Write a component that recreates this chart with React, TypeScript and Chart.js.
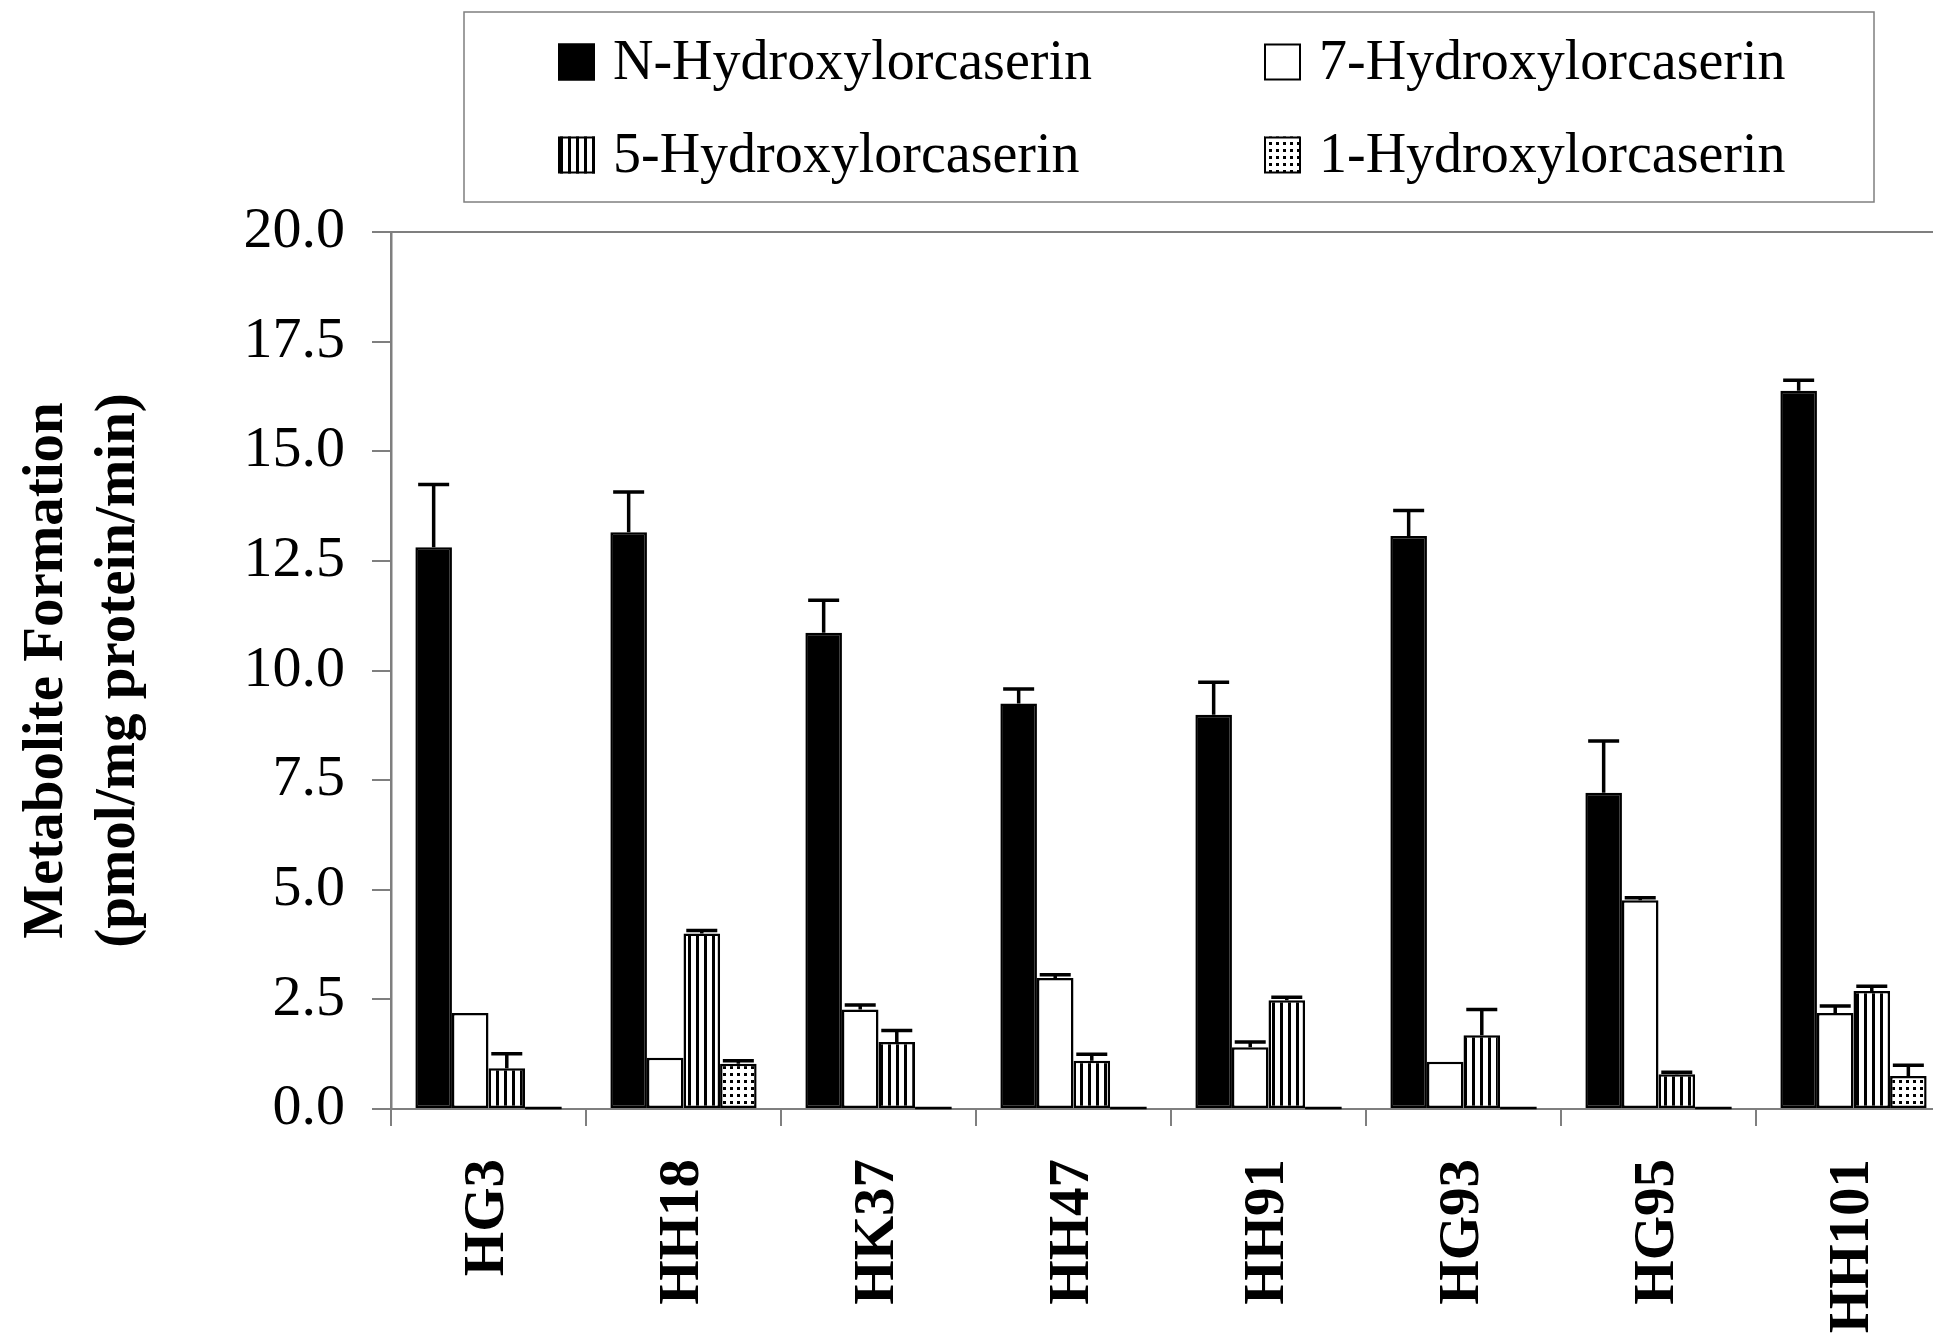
import React, { useEffect, useRef } from 'react';
import { Chart, registerables } from 'chart.js';

Chart.register(...registerables);

// Liver microsome samples
const samples = ['HG3', 'HH18', 'HK37', 'HH47', 'HH91', 'HG93', 'HG95', 'HH101'];

const seriesNames = [
  'N-Hydroxylorcaserin',
  '7-Hydroxylorcaserin',
  '5-Hydroxylorcaserin',
  '1-Hydroxylorcaserin',
];

// Metabolite formation, pmol/mg protein/min (mean and SD)
const nHydroxy = [12.81, 13.15, 10.86, 9.25, 8.99, 13.07, 7.21, 16.38];
const nHydroxySd = [1.43, 0.92, 0.74, 0.33, 0.74, 0.58, 1.18, 0.24];

const sevenHydroxy = [2.19, 1.17, 2.27, 2.99, 1.41, 1.08, 4.76, 2.19];
const sevenHydroxySd = [0, 0, 0.1, 0.07, 0.12, 0, 0.06, 0.16];

const fiveHydroxy = [0.93, 4.0, 1.53, 1.1, 2.48, 1.68, 0.79, 2.69];
const fiveHydroxySd = [0.33, 0.07, 0.26, 0.15, 0.07, 0.59, 0.05, 0.11];

const oneHydroxy = [0, 1.03, 0, 0, 0, 0, 0, 0.75];
const oneHydroxySd = [0, 0.07, 0, 0, 0, 0, 0, 0.25];

const yTickValues = [0, 2.5, 5, 7.5, 10, 12.5, 15, 17.5, 20];

const seriesValues = [nHydroxy, sevenHydroxy, fiveHydroxy, oneHydroxy];
const seriesSd = [nHydroxySd, sevenHydroxySd, fiveHydroxySd, oneHydroxySd];

const SERIF = '"Liberation Serif", "Times New Roman", Times, serif';
const AXIS_GRAY = '#7f7f7f';

function makeStripePattern(): CanvasPattern | string {
  const c = document.createElement('canvas');
  c.width = 8;
  c.height = 8;
  const g = c.getContext('2d');
  if (!g) return '#888';
  g.fillStyle = '#fff';
  g.fillRect(0, 0, 8, 8);
  g.fillStyle = '#000';
  g.fillRect(0, 0, 3, 8);
  return g.createPattern(c, 'repeat') || '#888';
}

function makeDotPattern(): CanvasPattern | string {
  const c = document.createElement('canvas');
  c.width = 7;
  c.height = 7;
  const g = c.getContext('2d');
  if (!g) return '#bbb';
  g.fillStyle = '#fff';
  g.fillRect(0, 0, 7, 7);
  g.fillStyle = '#000';
  g.fillRect(2, 2, 3, 3);
  return g.createPattern(c, 'repeat') || '#bbb';
}

export default function App() {
  const canvasRef = useRef<HTMLCanvasElement | null>(null);

  useEffect(() => {
    const canvas = canvasRef.current;
    if (!canvas) return;

    const fills: (string | CanvasPattern)[] = ['#000000', '#ffffff', makeStripePattern(), makeDotPattern()];

    // plus-only error bars, and the outline of empty (zero) bars on the baseline
    const errorBars = {
      id: 'errorBars',
      afterDatasetsDraw(chart: any) {
        const ctx: CanvasRenderingContext2D = chart.ctx;
        const yScale = chart.scales.y;
        chart.data.datasets.forEach((ds: any, i: number) => {
          const meta = chart.getDatasetMeta(i);
          const sds = seriesSd[i];
          meta.data.forEach((bar: any, j: number) => {
            const v = ds.data[j] as number;
            const x = bar.x;
            const y0 = yScale.getPixelForValue(v);
            ctx.save();
            ctx.strokeStyle = '#000';
            if (v === 0) {
              ctx.lineWidth = 2.5;
              ctx.beginPath();
              ctx.moveTo(x - bar.width / 2, y0 - 1);
              ctx.lineTo(x + bar.width / 2, y0 - 1);
              ctx.stroke();
            }
            const sd = sds[j];
            if (sd) {
              const y1 = yScale.getPixelForValue(v + sd);
              ctx.lineWidth = 3.5;
              ctx.beginPath();
              ctx.moveTo(x, y0);
              ctx.lineTo(x, y1);
              ctx.moveTo(x - 15.5, y1);
              ctx.lineTo(x + 15.5, y1);
              ctx.stroke();
            }
            ctx.restore();
          });
        });
      },
    };

    // plot-area frame
    const plotFrame = {
      id: 'plotFrame',
      beforeDatasetsDraw(chart: any) {
        const { ctx, chartArea } = chart;
        ctx.save();
        ctx.strokeStyle = AXIS_GRAY;
        ctx.lineWidth = 2;
        ctx.beginPath();
        ctx.moveTo(chartArea.left, chartArea.top);
        ctx.lineTo(chartArea.right, chartArea.top);
        ctx.lineTo(chartArea.right, chartArea.bottom);
        ctx.stroke();
        ctx.restore();
      },
    };

    // boxed two-column legend above the plot
    const boxedLegend = {
      id: 'boxedLegend',
      afterDraw(chart: any) {
        const ctx: CanvasRenderingContext2D = chart.ctx;
        const boxLeft = 464;
        const boxTop = 12;
        const boxW = 1410;
        const boxH = 190;
        ctx.save();
        ctx.strokeStyle = AXIS_GRAY;
        ctx.lineWidth = 1.5;
        ctx.strokeRect(boxLeft, boxTop, boxW, boxH);

        const colX = [boxLeft + 94, boxLeft + 800];
        const rowY = [boxTop + 50, boxTop + 143];
        const sw = 37;
        ctx.font = `56px ${SERIF}`;
        ctx.textBaseline = 'middle';
        ctx.textAlign = 'left';
        chart.data.datasets.forEach((ds: any, i: number) => {
          const cx = colX[i % 2];
          const cy = rowY[Math.floor(i / 2)];
          ctx.fillStyle = ds.backgroundColor;
          ctx.fillRect(cx, cy - sw / 2, sw, sw);
          ctx.strokeStyle = '#000';
          ctx.lineWidth = 2;
          ctx.strokeRect(cx + 1, cy - sw / 2 + 1, sw - 2, sw - 2);
          ctx.fillStyle = '#000';
          ctx.fillText(ds.label, cx + sw + 18, cy + 2);
        });
        ctx.restore();
      },
    };

    const chart = new Chart(canvas, {
      type: 'bar',
      data: {
        labels: samples,
        datasets: seriesNames.map((name, i) => ({
          label: name,
          data: seriesValues[i],
          backgroundColor: fills[i] as any,
          borderColor: '#000',
          borderWidth: 2.5,
          borderSkipped: false,
          categoryPercentage: 0.75,
          barPercentage: 1.0,
        })),
      },
      options: {
        responsive: false,
        animation: false,
        events: [],
        devicePixelRatio: 1,
        layout: { padding: { top: 232, left: 0, right: 9, bottom: 0 } },
        plugins: {
          legend: { display: false },
          tooltip: { enabled: false },
        },
        scales: {
          x: {
            afterFit(scale: any) {
              scale.height = 226;
            },
            grid: {
              offset: true,
              drawOnChartArea: false,
              drawTicks: true,
              tickLength: 17,
              color: AXIS_GRAY,
              lineWidth: 2,
            },
            border: { color: AXIS_GRAY, width: 2 },
            ticks: {
              autoSkip: false,
              minRotation: 90,
              maxRotation: 90,
              padding: 33,
              color: '#000',
              font: { family: SERIF, size: 57, weight: 'bold' },
            },
          },
          y: {
            min: 0,
            max: 20,
            afterFit(scale: any) {
              scale.width = 391;
            },
            afterBuildTicks(scale: any) {
              scale.ticks = yTickValues.map((v) => ({ value: v }));
            },
            grid: {
              drawOnChartArea: false,
              drawTicks: true,
              tickLength: 19,
              color: AXIS_GRAY,
              lineWidth: 2,
            },
            border: { color: AXIS_GRAY, width: 2.5 },
            ticks: {
              padding: 27,
              color: '#000',
              font: { family: SERIF, size: 58 },
              callback: (v: any) => Number(v).toFixed(1),
            },
            title: {
              display: true,
              text: ['Metabolite Formation', '(pmol/mg protein/min)'],
              color: '#000',
              font: { family: SERIF, size: 57, weight: 'bold', lineHeight: 1.25 },
              padding: { top: 12, bottom: 0 },
            },
          },
        },
      },
      plugins: [plotFrame, errorBars, boxedLegend],
    });

    return () => {
      chart.destroy();
    };
  }, []);

  return (
    <div
      style={{
        position: 'absolute',
        left: 0,
        top: 0,
        width: 1933,
        height: 1335,
        overflow: 'hidden',
        background: '#fff',
      }}
    >
      <canvas
        ref={canvasRef}
        width={1960}
        height={1335}
        style={{ display: 'block', width: 1960, height: 1335 }}
      />
    </div>
  );
}
